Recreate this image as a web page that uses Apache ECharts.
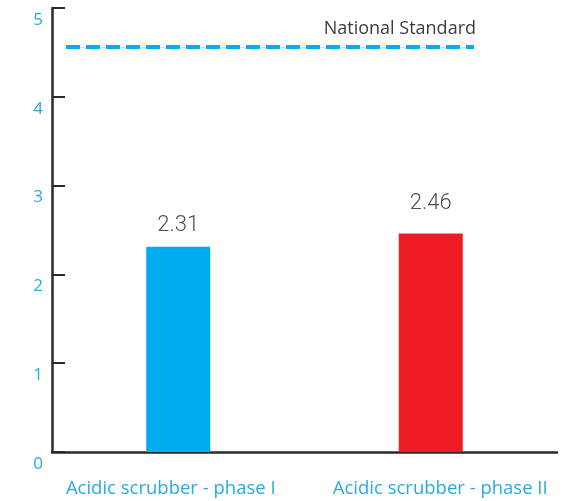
<!DOCTYPE html>
<html>
<head>
<meta charset="utf-8">
<script src="https://cdn.jsdelivr.net/npm/echarts@6/dist/echarts.min.js"></script>
<style>
  html, body { margin: 0; padding: 0; background: #fff; }
  #chart { width: 564px; height: 501px; }
</style>
</head>
<body>
<div id="chart"></div>
<script>
// Emission results per scrubber phase versus the national limit
const categories = ['Acidic scrubber - phase I', 'Acidic scrubber - phase II'];
const values = [2.31, 2.46];
const barColors = ['#00aeef', '#ed1c24'];
const standardValue = 4.56;
const standardLabel = 'National Standard';
const yTicks = [0, 1, 2, 3, 4, 5];

const axisBlue = '#29abe2';
// small horizontal nudges for the category captions
const captionPadding = [[0, 15, 0, 0], [0, 0, 0, 19]];
// gap between each bar and its value label
const labelGaps = [10, 19];

const chart = echarts.init(document.getElementById('chart'), null, { renderer: 'canvas' });

chart.setOption({
  animation: false,
  grid: { left: 52, right: 7, top: 8, bottom: 49 },
  xAxis: {
    type: 'category',
    data: categories.map((c, i) => ({ value: c, textStyle: { padding: captionPadding[i] } })),
    boundaryGap: true,
    axisLine: { lineStyle: { color: '#2a2a2a', width: 2.5 } },
    axisTick: { inside: true, length: 10, lineStyle: { color: '#2a2a2a', width: 2 } },
    axisLabel: {
      interval: 0,
      hideOverlap: false,
      color: axisBlue,
      fontFamily: 'Open Sans',
      fontSize: 18.5,
      margin: 27
    }
  },
  yAxis: {
    type: 'value',
    min: yTicks[0],
    max: yTicks[yTicks.length - 1],
    interval: 1,
    splitLine: { show: false },
    axisLine: { show: true, lineStyle: { color: '#2a2a2a', width: 2.5 } },
    axisTick: { show: true, inside: true, length: 13, lineStyle: { color: '#2a2a2a', width: 2 } },
    axisLabel: {
      color: axisBlue,
      fontFamily: 'Open Sans',
      fontSize: 17,
      margin: 9,
      verticalAlign: 'top',
      lineHeight: 24
    }
  },
  series: [{
    type: 'bar',
    barWidth: 64,
    data: values.map((v, i) => ({
      value: v,
      itemStyle: { color: barColors[i] },
      label: { distance: labelGaps[i] }
    })),
    label: {
      show: true,
      position: 'top',
      color: '#4d4d4d',
      fontFamily: 'Roboto',
      fontWeight: 300,
      fontSize: 22
    },
    markLine: {
      silent: true,
      symbol: ['none', 'none'],
      data: [
        // faint hairline under the dashes
        [
          { yAxis: standardValue, x: 66, lineStyle: { color: '#bfe6f8', type: 'solid', width: 1 }, label: { show: false } },
          { yAxis: standardValue, x: 474 }
        ],
        [
          {
            yAxis: standardValue, x: 66,
            lineStyle: { color: '#00aeef', type: [14, 6], width: 4 },
            label: {
              show: true,
              position: 'insideEndTop',
              formatter: standardLabel,
              color: '#3c3c3c',
              fontFamily: 'Open Sans',
              fontSize: 18,
              distance: [-2, 9]
            }
          },
          { yAxis: standardValue, x: 474 }
        ]
      ]
    }
  }]
});
</script>
</body>
</html>
